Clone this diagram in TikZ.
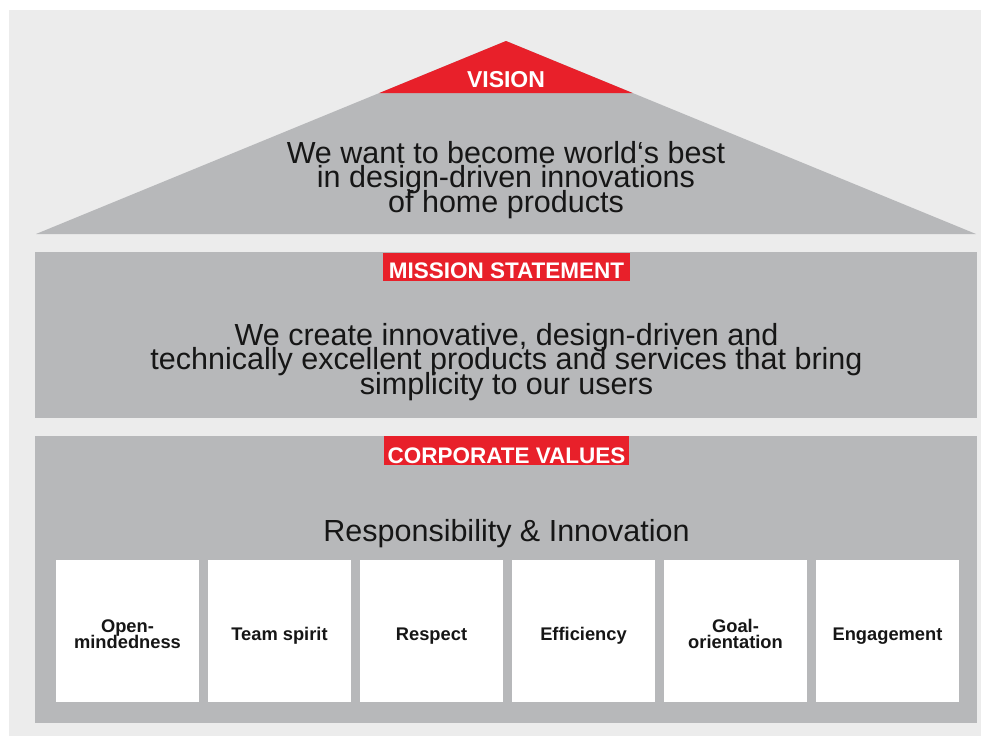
\documentclass[tikz,border=0pt]{standalone}
\usepackage{fontspec}
\setmainfont{Liberation Sans}
\usetikzlibrary{calc}
\definecolor{pagebg}{HTML}{ECECEC}
\definecolor{slab}{HTML}{B7B8BA}
\definecolor{tagred}{HTML}{E8202A}
\definecolor{ink}{HTML}{161616}
\lineskiplimit=-100pt
\lineskip=0pt
\begin{document}
\begin{tikzpicture}[x=1pt,y=-1pt,
  slabbox/.style={fill=slab,draw=none,inner sep=0pt,anchor=north west},
  redtag/.style={fill=tagred,text=white,inner sep=0pt,
    font=\bfseries\fontsize{22.5}{22.5}\selectfont},
  bigtext/.style={text=ink,align=center,inner sep=0pt,
    font=\fontsize{30.5}{24.5}\selectfont},
  valuebox/.style={fill=white,draw=none,inner sep=0pt,
    minimum width=143pt,minimum height=142pt},
  valuetext/.style={text=ink,align=center,inner sep=0pt,
    font=\bfseries\fontsize{18.3}{16}\selectfont}]

\useasboundingbox (0,0) rectangle (981,736);
% backdrop
\fill[pagebg] (9,10) rectangle (981,736);

% roof
\coordinate (apex) at (506,41);
\coordinate (eaveL) at (36,234);
\coordinate (eaveR) at (976,234);
\fill[slab] (eaveL) -- (apex) -- (eaveR) -- cycle;
\coordinate (tipL) at (379.4,93);
\coordinate (tipR) at (632.6,93);
\fill[tagred] (tipL) -- (apex) -- (tipR) -- cycle;
\node[anchor=base,text=white,inner sep=0pt,
  font=\bfseries\fontsize{23}{23}\selectfont] (vision) at (506,87.3) {VISION};
\node[bigtext] (visiontext) at (506,180)
  {We want to become world‘s best\\in design-driven innovations\\of home products};

% mission slab
\node[slabbox,minimum width=942pt,minimum height=166pt] (mission) at (35,252) {};
\node[redtag,anchor=south,minimum width=247pt,text height=25.3pt,text depth=2.7pt]
  (missiontag) at (506.5,281) {MISSION STATEMENT};
\node[bigtext] (missiontext) at (506.5,362)
  {We create innovative, design-driven and\\technically excellent products and services that bring\\simplicity to our users};

% values slab
\node[slabbox,minimum width=942pt,minimum height=287pt] (values) at (35,436) {};
\node[redtag,anchor=south,minimum width=245pt,text height=27.3pt,text depth=1.7pt]
  (valuestag) at (506.5,465) {CORPORATE VALUES};
\node[text=ink,anchor=base,inner sep=0pt,font=\fontsize{30.5}{30.5}\selectfont]
  (motto) at (506.5,541.7) {Responsibility \& Innovation};

% value cards
\foreach \i in {1,...,6}
  \node[valuebox] (v\i) at ({127.5+152*(\i-1)},631) {};

\node[valuetext] (t1) at ($(v1.center)+(0,3.3)$) {Open-\\mindedness};
\node[valuetext,anchor=base] (t2) at ($(v2.center)+(0,9.5)$) {Team spirit};
\node[valuetext,anchor=base] (t3) at ($(v3.center)+(0,9.5)$) {Respect};
\node[valuetext,anchor=base] (t4) at ($(v4.center)+(0,9.5)$) {Efficiency};
\node[valuetext] (t5) at ($(v5.center)+(0,3.3)$) {Goal-\\orientation};
\node[valuetext,anchor=base] (t6) at ($(v6.center)+(0,9.5)$) {Engagement};
\end{tikzpicture}
\end{document}
